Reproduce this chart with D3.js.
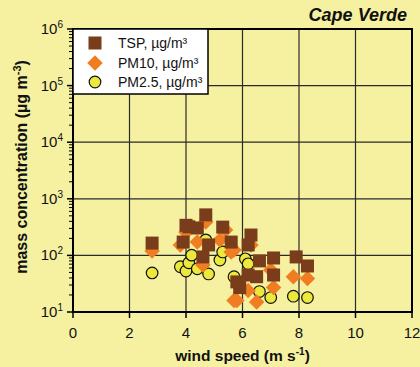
<!DOCTYPE html>
<html>
<head>
<meta charset="utf-8">
<script src="https://d3js.org/d3.v7.min.js"></script>
<style>
  body { margin: 0; background: #f5f1a0; }
  svg text { font-family: "Liberation Sans", Arial, sans-serif; fill: #111; }
</style>
</head>
<body>
<div id="chart"></div>
<script>
"use strict";

// wind speed (m/s), concentration (µg/m3)
var tsp = [[2.8,165],[3.9,172],[4.0,340],[4.1,320],[4.4,305],[4.6,94],[4.7,520],[4.8,153],
  [5.3,316],[5.6,172],[5.8,34],[5.9,27],[6.2,153],[6.3,229],[6.2,45],[6.5,42],[6.6,80],
  [7.1,90],[7.1,45],[7.9,94],[8.3,65]];
var pm10 = [[2.8,120],[3.8,153],[4.0,257],[4.4,172],[4.6,68],[4.7,390],[5.2,188],[5.4,280],
  [5.6,115],[5.7,125],[5.7,16],[5.8,16],[6.2,24],[6.3,153],[6.5,15],[7.0,55],[7.1,27],
  [7.8,42],[8.3,39]];
var pm25 = [[2.8,49],[3.8,63],[4.0,53],[4.1,74],[4.2,101],[4.4,58],[4.7,188],[4.8,47],
  [5.2,83],[5.3,115],[5.7,42],[6.1,87],[6.2,71],[6.6,23],[7.0,18],[7.8,19],[8.3,18]];

var xTicks = [0, 2, 4, 6, 8, 10, 12];
var yExp = [1, 2, 3, 4, 5, 6];
var legendLabels = ["TSP, µg/m³", "PM10, µg/m³", "PM2.5, µg/m³"];

var W = 420, H = 367;
var margin = {top: 29, right: 8, bottom: 55, left: 73};
var iw = W - margin.left - margin.right, ih = H - margin.top - margin.bottom;

var svg = d3.select("#chart").append("svg").attr("width", W).attr("height", H);
svg.append("rect").attr("width", W).attr("height", H).attr("fill", "#f5f1a0");
var g = svg.append("g").attr("transform", "translate(" + margin.left + "," + margin.top + ")");

var x = d3.scaleLinear().domain([0, 12]).range([0, iw]);
var y = d3.scaleLog().domain([10, 1e6]).range([ih, 0]);

// grid
g.selectAll(".gx").data(xTicks.slice(1, -1)).enter().append("line")
  .attr("x1", d => x(d)).attr("x2", d => x(d)).attr("y1", 0).attr("y2", ih)
  .attr("stroke", "#2a2a2a").attr("stroke-width", 1.2);
g.selectAll(".gy").data(yExp.slice(1, -1)).enter().append("line")
  .attr("y1", d => y(Math.pow(10, d))).attr("y2", d => y(Math.pow(10, d)))
  .attr("x1", 0).attr("x2", iw).attr("stroke", "#2a2a2a").attr("stroke-width", 1.2);

// minor y ticks
var minors = [];
for (var e = 1; e < 6; e++) for (var k = 2; k < 10; k++) minors.push(k * Math.pow(10, e));
g.selectAll(".my").data(minors).enter().append("line")
  .attr("x1", -4).attr("x2", 0).attr("y1", d => y(d)).attr("y2", d => y(d))
  .attr("stroke", "#000").attr("stroke-width", 1);
g.selectAll(".My").data(yExp).enter().append("line")
  .attr("x1", -6).attr("x2", 0).attr("y1", d => y(Math.pow(10, d))).attr("y2", d => y(Math.pow(10, d)))
  .attr("stroke", "#000").attr("stroke-width", 1.5);
g.selectAll(".Mx").data(xTicks).enter().append("line")
  .attr("x1", d => x(d)).attr("x2", d => x(d)).attr("y1", ih).attr("y2", ih + 6)
  .attr("stroke", "#000").attr("stroke-width", 1.5);

// tick labels
var yl = g.selectAll(".yl").data(yExp).enter().append("text")
  .attr("x", -10).attr("y", d => y(Math.pow(10, d)) + 5)
  .attr("text-anchor", "end").style("font-size", "15px");
yl.append("tspan").text("10");
yl.append("tspan").attr("dy", -6).style("font-size", "10px").text(d => d);

g.selectAll(".xl").data(xTicks).enter().append("text")
  .attr("x", d => x(d)).attr("y", ih + 26).attr("text-anchor", "middle")
  .style("font-size", "15px").text(d => d);

// points
g.selectAll(".c").data(pm25).enter().append("circle")
  .attr("cx", d => x(d[0])).attr("cy", d => y(d[1])).attr("r", 5.8)
  .attr("fill", "#ede83c").attr("stroke", "#111").attr("stroke-width", 1.2);
var dia = d3.symbol().type(d3.symbolSquare).size(120);
g.selectAll(".d").data(pm10).enter().append("path")
  .attr("d", dia)
  .attr("transform", d => "translate(" + x(d[0]) + "," + y(d[1]) + ") rotate(45)")
  .attr("fill", "#f07d22");
g.selectAll(".s").data(tsp).enter().append("rect")
  .attr("x", d => x(d[0]) - 6.5).attr("y", d => y(d[1]) - 6.5)
  .attr("width", 13).attr("height", 13).attr("fill", "#7a3d1c");

// frame
g.append("rect").attr("width", iw).attr("height", ih)
  .attr("fill", "none").attr("stroke", "#000").attr("stroke-width", 2);

// legend
var lg = g.append("g");
lg.append("rect").attr("x", 0).attr("y", 0).attr("width", 135).attr("height", 65)
  .attr("fill", "#fff").attr("stroke", "#000").attr("stroke-width", 1.5);
var ly = [14, 34, 53];
lg.append("rect").attr("x", 15.5).attr("y", ly[0] - 6.5).attr("width", 13).attr("height", 13).attr("fill", "#7a3d1c");
lg.append("path").attr("d", dia).attr("transform", "translate(22," + ly[1] + ") rotate(45)").attr("fill", "#f07d22");
lg.append("circle").attr("cx", 22).attr("cy", ly[2]).attr("r", 5.8)
  .attr("fill", "#ede83c").attr("stroke", "#111").attr("stroke-width", 1.2);
lg.selectAll(".lt").data(legendLabels).enter().append("text")
  .attr("x", 45).attr("y", (d, i) => ly[i] + 5).style("font-size", "14px").text(d => d);

// titles
svg.append("text").attr("x", 407).attr("y", 21).attr("text-anchor", "end")
  .style("font-size", "18px").style("font-weight", "bold").style("font-style", "italic")
  .text("Cape Verde");

var xt = svg.append("text").attr("x", margin.left + iw / 2).attr("y", 361)
  .attr("text-anchor", "middle").style("font-size", "15.5px").style("font-weight", "bold");
xt.append("tspan").text("wind speed (m s");
xt.append("tspan").attr("dy", -6).style("font-size", "10px").text("-1");
xt.append("tspan").attr("dy", 6).text(")");

var yt = svg.append("text").attr("transform", "translate(27,167) rotate(-90)")
  .attr("text-anchor", "middle").style("font-size", "16px").style("font-weight", "bold");
yt.append("tspan").text("mass concentration (µg m");
yt.append("tspan").attr("dy", -6).style("font-size", "11px").text("-3");
yt.append("tspan").attr("dy", 6).text(")");
</script>
</body>
</html>
